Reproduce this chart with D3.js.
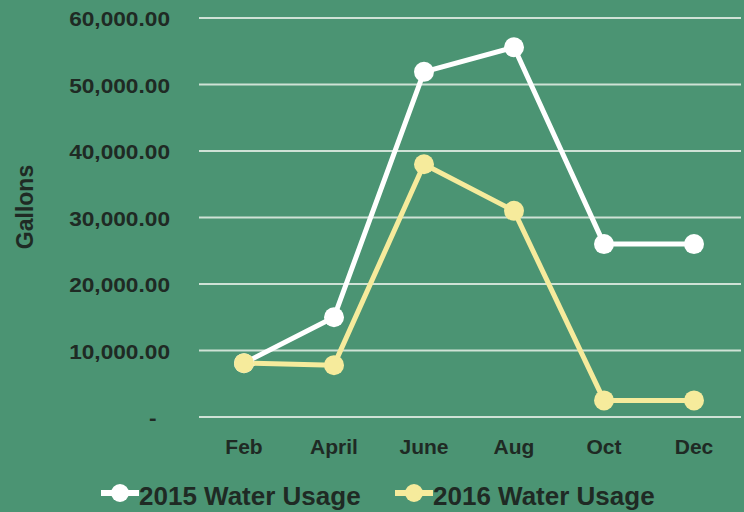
<!DOCTYPE html>
<html><head><meta charset="utf-8">
<script src="https://cdn.jsdelivr.net/npm/d3@7"></script>
<style>
html,body{margin:0;padding:0;background:#4b9473;}
text{font-family:"Liberation Sans",Arial,Helvetica,sans-serif;font-weight:bold;fill:#1f2a24;}
</style></head>
<body>
<svg id="c" width="744" height="512"></svg>
<script>
const months = ["Feb","April","June","Aug","Oct","Dec"];
const usage2015 = [8100, 15000, 51900, 55600, 26000, 26000];
const usage2016 = [8100, 7800, 38000, 31000, 2500, 2500];
const yTicks = [0, 10000, 20000, 30000, 40000, 50000, 60000];
const seriesNames = ["2015 Water Usage", "2016 Water Usage"];
const seriesColors = ["#ffffff", "#f6eb9c"];

const svg = d3.select("#c");
svg.append("rect").attr("width",744).attr("height",512).attr("fill","#4b9473");

const x = d3.scaleBand().domain(months).range([199, 739]);
const y = d3.scaleLinear().domain([0, 60000]).range([417, 18]);

// gridlines
svg.append("g").selectAll("line").data(yTicks).join("line")
  .attr("x1", 199).attr("x2", 741)
  .attr("y1", d => y(d)).attr("y2", d => y(d))
  .attr("stroke", "#cfe2d6").attr("stroke-width", 2);

// y axis labels
const fmt = d3.format(",.2f");
const yAxis = d3.axisLeft(y).tickValues(yTicks).tickSize(0).tickPadding(0)
  .tickFormat(d => d === 0 ? "-" : fmt(d));
const gy = svg.append("g").attr("transform", "translate(170,0)").call(yAxis);
gy.select(".domain").remove();
gy.selectAll("text").attr("font-size", 21).attr("dy", "0.36em")
  .attr("transform", "scale(1.08,1)")
  .style("font-family", "'Liberation Sans',Arial,sans-serif").style("font-weight","bold").attr("fill", "#1f2a24");
gy.selectAll(".tick").filter(d => d === 0).select("text")
  .attr("text-anchor", "middle").attr("x", -16);

// x axis labels
const xAxis = d3.axisBottom(x).tickSize(0).tickPadding(0);
const gx = svg.append("g").attr("transform", "translate(0,439)").call(xAxis);
gx.select(".domain").remove();
gx.selectAll("text").attr("font-size", 21).attr("dy", "0.71em")
  .style("font-family", "'Liberation Sans',Arial,sans-serif").style("font-weight","bold").attr("fill", "#1f2a24");

// y title
svg.append("text").attr("transform", "translate(33,207) rotate(-90)")
  .attr("text-anchor", "middle").attr("font-size", 23).text("Gallons");

// lines
const line = d3.line().x((d,i) => x(months[i]) + x.bandwidth()/2).y(d => y(d));
[usage2015, usage2016].forEach((vals, k) => {
  svg.append("path").datum(vals).attr("d", line)
    .attr("fill", "none").attr("stroke", seriesColors[k]).attr("stroke-width", 5)
    .attr("stroke-linejoin", "round");
});
[usage2015, usage2016].forEach((vals, k) => {
  svg.append("g").selectAll("circle").data(vals).join("circle")
    .attr("cx", (d,i) => x(months[i]) + x.bandwidth()/2)
    .attr("cy", d => y(d)).attr("r", 10).attr("fill", seriesColors[k]);
});

// legend
const legX = [101, 395];
seriesNames.forEach((name, k) => {
  const g = svg.append("g").attr("transform", `translate(${legX[k]},493)`);
  g.append("line").attr("x1", 0).attr("x2", 38).attr("y1", 0).attr("y2", 0)
    .attr("stroke", seriesColors[k]).attr("stroke-width", 6);
  g.append("circle").attr("cx", 19).attr("cy", 0).attr("r", 9).attr("fill", seriesColors[k]);
  g.append("text").attr("x", 38).attr("y", 12).attr("font-size", 26).text(name);
});
</script>
</body></html>
